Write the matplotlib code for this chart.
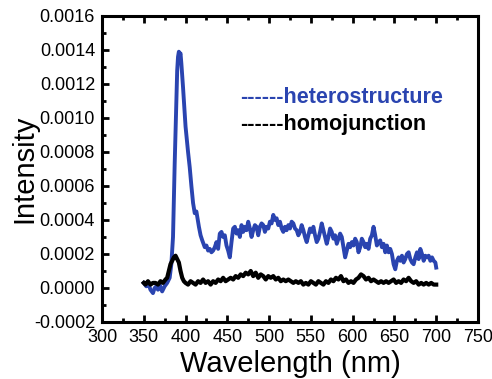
import numpy as np
import matplotlib
matplotlib.use('Agg')
import matplotlib.pyplot as plt
from matplotlib.ticker import MultipleLocator

plt.rcParams['font.family'] = ['Liberation Sans', 'DejaVu Sans']

# heterostructure spectrum (blue)
het_wl = [350, 353, 356, 358, 361, 363, 365, 367, 369, 372, 375, 378, 381, 383, 385, 387,
          389, 390, 391, 392, 393, 394, 395, 397, 400, 403, 405, 407, 409, 411, 413, 414,
          416, 418, 420, 423, 425, 427, 429, 431, 433, 435, 437, 439, 441, 443, 445, 447,
          449, 451, 453, 455, 457, 459, 461, 463, 465, 467, 469, 471, 473, 475, 477, 479,
          481, 483, 485, 487, 489, 491, 493, 495, 497, 499, 501, 503, 505, 507, 509, 511,
          513, 515, 517, 519, 521, 523, 525, 527, 529, 531, 533, 535, 537, 539, 541, 543,
          545, 547, 549, 551, 553, 555, 557, 559, 561, 563, 565, 567, 569, 571, 573, 575,
          577, 579, 581, 583, 585, 587, 589, 591, 593, 595, 597, 599, 601, 603, 605, 607,
          609, 611, 613, 615, 617, 619, 621, 623, 625, 627, 629, 631, 633, 635, 637, 639,
          641, 643, 645, 647, 649, 651, 653, 655, 657, 659, 661, 663, 665, 667, 669, 671,
          673, 675, 677, 679, 681, 683, 685, 687, 689, 691, 693, 695, 697, 699, 700]
het_int = [3, 1, 2, -1, -3, 0, 1, -1, 2, -2, 1, 3, 6, 14, 30, 73,
           110, 128, 136, 139, 137, 138, 132, 118, 95, 80, 71, 60, 50, 44, 45, 42,
           36, 31, 28, 24, 25, 22, 23, 21, 22, 24, 27, 23, 32, 33, 30, 31,
           25, 22, 18, 27, 35, 36, 32, 34, 30, 37, 33, 36, 34, 39, 35, 30,
           34, 37, 36, 31, 36, 38, 37, 33, 36, 35, 39, 38, 43, 40, 41, 37,
           39, 35, 33, 36, 34, 37, 35, 39, 38, 35, 34, 31, 33, 37, 34, 30,
           27, 31, 35, 33, 36, 31, 27, 29, 33, 38, 34, 30, 26, 30, 35, 33,
           29, 31, 26, 29, 32, 30, 24, 18, 22, 26, 24, 27, 25, 29, 27, 21,
           24, 29, 27, 24, 26, 23, 29, 31, 36, 31, 25, 27, 28, 24, 26, 21,
           25, 21, 23, 20, 14, 11, 16, 18, 16, 19, 15, 17, 20, 21, 17, 15,
           14, 18, 21, 17, 23, 20, 16, 19, 18, 19, 16, 18, 16, 15, 12]

# homojunction spectrum (black)
hom_wl = [350, 352, 355, 358, 361, 364, 367, 370, 373, 376, 378, 380, 382, 384, 386, 388,
          390, 392, 394, 396, 398, 400, 403, 406, 409, 412, 415, 418, 421, 424, 427, 430,
          433, 436, 439, 442, 445, 448, 451, 454, 457, 460, 463, 466, 469, 472, 475, 478,
          481, 484, 487, 490, 493, 496, 499, 502, 505, 508, 511, 514, 517, 520, 523, 526,
          529, 532, 535, 538, 541, 544, 547, 550, 553, 556, 559, 562, 565, 568, 571, 574,
          577, 580, 583, 586, 589, 592, 595, 598, 601, 604, 607, 610, 613, 616, 619, 622,
          625, 628, 631, 634, 637, 640, 643, 646, 649, 652, 655, 658, 661, 664, 667, 670,
          673, 676, 679, 682, 685, 688, 691, 694, 697, 700]
hom_int = [3, 2, 4, 2, 3, 3, 2, 4, 3, 5, 6, 10, 14, 16, 18, 19,
           17, 15, 10, 6, 4, 3, 2, 4, 3, 2, 4, 3, 5, 3, 4, 2,
           4, 3, 5, 4, 6, 4, 5, 6, 5, 7, 6, 8, 7, 9, 8, 10,
           7, 9, 6, 8, 7, 5, 7, 6, 7, 5, 6, 4, 5, 4, 5, 4,
           3, 4, 3, 4, 2, 3, 2, 4, 3, 2, 4, 3, 2, 4, 3, 5,
           4, 6, 5, 7, 4, 5, 3, 4, 3, 5, 6, 8, 7, 5, 6, 4,
           5, 4, 3, 4, 3, 4, 3, 4, 5, 3, 4, 3, 5, 4, 6, 4,
           3, 4, 2, 3, 2, 3, 2, 3, 2, 2]

scale = 1e-5
blue = '#2a44b0'

fig = plt.figure(figsize=(4.92, 3.79), dpi=100)
ax = fig.add_axes([0.2073, 0.1504, 0.7642, 0.8074])

ax.plot(het_wl, np.array(het_int) * scale, color=blue, lw=2.8)
ax.plot(hom_wl, np.array(hom_int) * scale, color='black', lw=3.0)

ax.set_xlim(300, 750)
ax.set_ylim(-0.0002, 0.0016)
ax.xaxis.set_major_locator(MultipleLocator(50))
ax.xaxis.set_minor_locator(MultipleLocator(25))
ax.yaxis.set_major_locator(MultipleLocator(0.0002))
ax.yaxis.set_minor_locator(MultipleLocator(0.0001))
ax.yaxis.set_major_formatter(matplotlib.ticker.FormatStrFormatter('%.4f'))

ax.tick_params(which='both', direction='in', top=True, right=False, width=2, labelsize=13, pad=5)
ax.tick_params(which='major', length=5)
ax.tick_params(which='minor', length=3)
for s in ax.spines.values():
    s.set_linewidth(2.2)

ax.set_xlabel('Wavelength (nm)', fontsize=21)
ax.set_ylabel('Intensity', fontsize=21)
ax.xaxis.set_label_coords(0.5, -0.09)
ax.yaxis.set_label_coords(-0.17, 0.5)

ax.text(0.367, 0.735, '------heterostructure', transform=ax.transAxes, color=blue,
        fontsize=15.5, fontweight='bold', va='center', ha='left')
ax.text(0.367, 0.647, '------homojunction', transform=ax.transAxes, color='black',
        fontsize=15.5, fontweight='bold', va='center', ha='left')

fig.savefig('out.png', dpi=100)
